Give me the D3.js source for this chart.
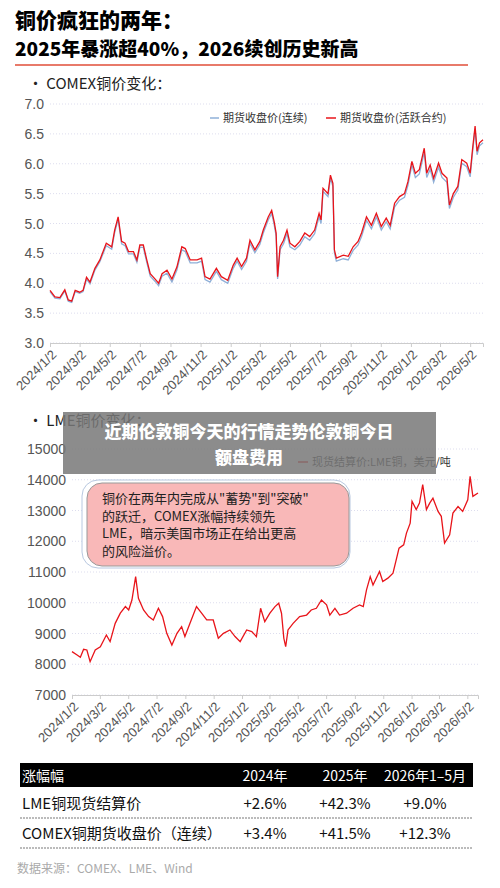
<!DOCTYPE html>
<html>
<head>
<meta charset="utf-8">
<script src="https://cdn.jsdelivr.net/npm/d3@7"></script>
<style>
body { margin: 0; background: #fff; }
svg { font-family: "Noto Sans CJK SC", "Noto Sans", sans-serif; }
</style>
</head>
<body>
<svg id="chart" width="500" height="888"></svg>
<script>
// COMEX data (USD/lb)
var comexDates = ["2024-01-02","2024-01-12","2024-01-22","2024-02-01","2024-02-08","2024-02-15","2024-02-22","2024-03-02","2024-03-09","2024-03-16","2024-03-23","2024-04-02","2024-04-12","2024-04-25","2024-05-06","2024-05-12","2024-05-19","2024-05-26","2024-06-02","2024-06-09","2024-06-19","2024-06-26","2024-07-02","2024-07-09","2024-07-16","2024-07-23","2024-08-02","2024-08-09","2024-08-16","2024-08-26","2024-09-05","2024-09-15","2024-09-25","2024-10-02","2024-10-12","2024-10-26","2024-11-04","2024-11-11","2024-11-21","2024-12-04","2024-12-14","2024-12-27","2025-01-07","2025-01-15","2025-01-24","2025-02-03","2025-02-10","2025-02-20","2025-03-02","2025-03-09","2025-03-19","2025-03-26","2025-03-31","2025-04-04","2025-04-07","2025-04-12","2025-04-19","2025-04-26","2025-05-02","2025-05-12","2025-05-22","2025-06-01","2025-06-11","2025-06-21","2025-06-30","2025-07-04","2025-07-08","2025-07-18","2025-07-23","2025-07-28","2025-07-31","2025-08-04","2025-08-18","2025-08-28","2025-09-07","2025-09-17","2025-09-24","2025-10-04","2025-10-14","2025-10-24","2025-11-03","2025-11-13","2025-11-21","2025-11-30","2025-12-10","2025-12-20","2025-12-27","2026-01-04","2026-01-11","2026-01-19","2026-01-29","2026-02-03","2026-02-10","2026-02-17","2026-02-27","2026-03-06","2026-03-16","2026-03-21","2026-03-29","2026-04-07","2026-04-15","2026-04-25","2026-05-02","2026-05-07","2026-05-12","2026-05-16","2026-05-21","2026-05-28"];
var comexActive = [3.88,3.77,3.76,3.89,3.72,3.70,3.88,3.85,3.88,4.10,4.02,4.25,4.39,4.67,4.61,4.89,5.11,4.70,4.67,4.53,4.53,4.39,4.64,4.64,4.39,4.16,4.07,4.00,4.16,4.22,4.07,4.27,4.61,4.58,4.39,4.39,4.42,4.11,4.07,4.25,4.11,4.05,4.30,4.42,4.28,4.42,4.72,4.56,4.70,4.89,5.11,5.22,5.03,4.84,4.11,4.61,4.72,4.89,4.67,4.61,4.70,4.84,4.78,4.89,5.17,5.06,5.59,5.50,5.81,5.67,4.56,4.42,4.47,4.45,4.61,4.70,4.84,5.11,4.97,5.17,4.95,5.09,4.97,5.34,5.45,5.50,5.70,6.04,5.84,5.90,6.26,5.84,5.98,5.76,6.01,5.84,5.76,5.31,5.50,5.62,6.07,6.01,5.84,6.26,6.63,6.21,6.35,6.40];
var comexCont = [3.86,3.75,3.74,3.87,3.70,3.68,3.86,3.83,3.86,4.07,3.99,4.22,4.36,4.63,4.57,4.85,5.07,4.66,4.63,4.49,4.49,4.35,4.60,4.60,4.35,4.12,4.03,3.96,4.12,4.17,4.02,4.22,4.56,4.53,4.34,4.34,4.37,4.06,4.02,4.20,4.06,4.00,4.25,4.37,4.23,4.37,4.67,4.51,4.65,4.84,5.06,5.17,4.98,4.79,4.07,4.56,4.66,4.83,4.61,4.56,4.64,4.78,4.72,4.83,5.11,5.00,5.54,5.45,5.76,5.62,4.51,4.37,4.41,4.39,4.55,4.64,4.78,5.05,4.91,5.11,4.89,5.03,4.91,5.28,5.39,5.44,5.64,5.98,5.77,5.83,6.19,5.77,5.91,5.69,5.94,5.77,5.69,5.25,5.44,5.56,6.01,5.95,5.78,6.20,6.58,6.15,6.30,6.35];
// LME data (USD/t)
var lmeDates = ["2024-01-02","2024-01-13","2024-01-20","2024-01-27","2024-02-03","2024-02-10","2024-02-21","2024-03-03","2024-03-16","2024-03-24","2024-04-04","2024-04-15","2024-04-26","2024-05-03","2024-05-10","2024-05-18","2024-05-24","2024-06-04","2024-06-15","2024-06-25","2024-07-06","2024-07-15","2024-07-24","2024-08-04","2024-08-15","2024-08-25","2024-09-01","2024-09-12","2024-09-26","2024-10-07","2024-10-18","2024-11-01","2024-11-12","2024-11-23","2024-12-07","2024-12-18","2024-12-29","2025-01-12","2025-01-23","2025-02-02","2025-02-11","2025-02-20","2025-03-03","2025-03-14","2025-03-22","2025-03-28","2025-04-02","2025-04-06","2025-04-11","2025-04-22","2025-05-06","2025-05-21","2025-05-31","2025-06-11","2025-06-22","2025-07-03","2025-07-10","2025-07-21","2025-07-31","2025-08-15","2025-08-29","2025-09-12","2025-09-20","2025-09-27","2025-10-05","2025-10-11","2025-10-25","2025-11-01","2025-11-12","2025-11-23","2025-11-29","2025-12-06","2025-12-16","2025-12-22","2025-12-30","2026-01-03","2026-01-12","2026-01-19","2026-01-26","2026-02-03","2026-02-10","2026-02-17","2026-02-28","2026-03-07","2026-03-14","2026-03-25","2026-04-01","2026-04-12","2026-04-22","2026-05-03","2026-05-08","2026-05-14","2026-05-25"];
var lmeSpot = [8410,8300,8225,8485,8465,8085,8465,8570,8950,8735,9330,9660,9875,9765,10090,10850,10145,9765,9550,9440,9820,9550,9005,8625,9005,9225,8900,9330,9875,9660,9440,9440,8845,9005,9115,8900,8735,9115,9060,8900,9820,9385,9660,9875,9985,9660,8845,8570,9115,9330,9550,9600,9765,9820,10090,9930,9600,9820,9600,9660,9820,9930,9875,10420,10850,10580,11015,10690,10800,10960,11340,11775,11885,12265,12590,13300,13030,13240,13840,13030,13240,13400,12970,12810,11940,12210,12915,13130,12970,13350,14110,13460,13570];
var tickDates = ["2024-01-02","2024-03-02","2024-05-02","2024-07-02","2024-09-02","2024-11-02","2025-01-02","2025-03-02","2025-05-02","2025-07-02","2025-09-02","2025-11-02","2026-01-02","2026-03-02","2026-05-02"];
var tableHead = ["涨幅幅", "2024年", "2025年", "2026年1–5月"];
var tableRows = [["LME铜现货结算价", "+2.6%", "+42.3%", "+9.0%"],
                 ["COMEX铜期货收盘价（连续）", "+3.4%", "+41.5%", "+12.3%"]];

var parse = d3.timeParse("%Y-%m-%d");
var fmt = d3.timeFormat("%Y/%-m/%-d");
var svg = d3.select("#chart");

// titles
svg.append("text").attr("x", 15).attr("y", 28).attr("font-size", 21).attr("font-weight", 900).text("铜价疯狂的两年：");
svg.append("text").attr("x", 15).attr("y", 56).attr("font-size", 19).attr("font-weight", 900).text("2025年暴涨超40%，2026续创历史新高");
svg.append("line").attr("x1", 15).attr("x2", 468).attr("y1", 65).attr("y2", 65).attr("stroke", "#e87a6a").attr("stroke-width", 2);

function drawChart(opt) {
    var g = svg.append("g");
    var x = d3.scaleTime().domain([parse("2024-01-02"), parse(opt.end)]).range([opt.left, opt.right]);
    var y = d3.scaleLinear().domain(opt.domain).range([opt.bottom, opt.top]);
    g.append("text").attr("x", 28).attr("y", opt.titleY).attr("font-size", 15).attr("fill", "#222").text(opt.title);
    g.selectAll(".grid").data(opt.ticks).enter().append("line")
        .attr("x1", opt.left).attr("x2", opt.right)
        .attr("y1", function (d) { return y(d); }).attr("y2", function (d) { return y(d); })
        .attr("stroke", "#dde").attr("stroke-dasharray", "1,2");
    g.selectAll(".yl").data(opt.ticks).enter().append("text")
        .attr("x", opt.left - 6).attr("y", function (d) { return y(d) + 5; })
        .attr("text-anchor", "end").attr("font-size", 14).attr("fill", "#555")
        .attr("font-family", "Liberation Sans, sans-serif")
        .text(opt.tickFmt);
    var xAxis = d3.axisBottom(x).tickValues(tickDates.map(parse)).tickFormat(fmt).tickSize(4);
    var ax = g.append("g").attr("transform", "translate(0," + opt.bottom + ")").call(xAxis);
    ax.select(".domain").attr("stroke", "#ccc");
    ax.selectAll(".tick line").attr("stroke", "#ccc");
    ax.selectAll("text").attr("font-size", 13).attr("fill", "#555")
        .attr("font-family", "Liberation Sans, sans-serif")
        .attr("text-anchor", "end").attr("dx", "-0.3em").attr("dy", "0.5em")
        .attr("transform", "rotate(-45)");
    var line = d3.line().x(function (d) { return x(d[0]); }).y(function (d) { return y(d[1]); });
    opt.series.forEach(function (s) {
        var pts = opt.dates.map(function (d, i) { return [parse(d), s.values[i]]; });
        g.append("path").attr("d", line(pts)).attr("fill", "none")
            .attr("stroke", s.color).attr("stroke-width", 1.3);
    });
    return g;
}

var upper = drawChart({
    title: "· COMEX铜价变化：", titleY: 89,
    left: 50, right: 483, top: 104, bottom: 343, end: "2026-05-28",
    domain: [3, 7], ticks: [3, 3.5, 4, 4.5, 5, 5.5, 6, 6.5, 7], tickFmt: d3.format(".1f"),
    dates: comexDates,
    series: [{ values: comexCont, color: "#8fb0d8" }, { values: comexActive, color: "#e8141a" }]
});
// legend top
upper.append("line").attr("x1", 210).attr("x2", 219).attr("y1", 118).attr("y2", 118).attr("stroke", "#8fb0d8").attr("stroke-width", 1.5);
upper.append("text").attr("x", 223).attr("y", 122).attr("font-size", 11).attr("fill", "#333").text("期货收盘价(连续)");
upper.append("line").attr("x1", 326).attr("x2", 336).attr("y1", 118).attr("y2", 118).attr("stroke", "#e8141a").attr("stroke-width", 1.5);
upper.append("text").attr("x", 340).attr("y", 122).attr("font-size", 11).attr("fill", "#333").text("期货收盘价(活跃合约)");

var lower = drawChart({
    title: "· LME铜价变化：", titleY: 426,
    left: 72, right: 478, top: 449, bottom: 695, end: "2026-05-25",
    domain: [7000, 15000], ticks: d3.range(7000, 15001, 1000), tickFmt: d3.format("d"),
    dates: lmeDates,
    series: [{ values: lmeSpot, color: "#e8141a" }]
});
lower.append("line").attr("x1", 298).attr("x2", 308).attr("y1", 462).attr("y2", 462).attr("stroke", "#e8141a").attr("stroke-width", 1.5);
lower.append("text").attr("x", 312).attr("y", 466).attr("font-size", 11).attr("fill", "#333").text("现货结算价:LME铜，美元/吨");

// annotation box
lower.append("rect").attr("x", 82).attr("y", 480).attr("width", 268).attr("height", 88).attr("rx", 16)
    .attr("fill", "#fff").attr("stroke", "#b8c8e0");
lower.append("rect").attr("x", 87).attr("y", 483).attr("width", 262).attr("height", 83).attr("rx", 15)
    .attr("fill", "#f9b8b8").attr("stroke", "#999");
["铜价在两年内完成从\"蓄势\"到\"突破\"", "的跃迁，COMEX涨幅持续领先", "LME，暗示美国市场正在给出更高", "的风险溢价。"].forEach(function (t, i) {
    lower.append("text").attr("x", 102).attr("y", 503 + i * 17.5).attr("font-size", 13).attr("fill", "#222").text(t);
});

// overlay banner
svg.append("rect").attr("x", 63).attr("y", 412).attr("width", 373).attr("height", 62).attr("fill", "rgba(120,120,120,0.85)");
svg.append("text").attr("x", 249).attr("y", 438).attr("text-anchor", "middle").attr("font-size", 17).attr("font-weight", 900).attr("fill", "#fff").text("近期伦敦铜今天的行情走势伦敦铜今日");
svg.append("text").attr("x", 249).attr("y", 464).attr("text-anchor", "middle").attr("font-size", 17).attr("font-weight", 900).attr("fill", "#fff").text("额盘费用");

// table
var colX = [22, 265, 345, 425];
svg.append("rect").attr("x", 20).attr("y", 763).attr("width", 453).attr("height", 24).attr("fill", "#000");
tableHead.forEach(function (t, i) {
    svg.append("text").attr("x", colX[i]).attr("y", 781).attr("text-anchor", i ? "middle" : "start")
        .attr("font-size", 14).attr("fill", "#fff").text(t);
});
tableRows.forEach(function (r, j) {
    var yy = 809 + j * 30;
    r.forEach(function (t, i) {
        svg.append("text").attr("x", colX[i]).attr("y", yy).attr("text-anchor", i ? "middle" : "start")
            .attr("font-size", 15).attr("fill", "#111").text(t);
    });
    svg.append("line").attr("x1", 20).attr("x2", 473).attr("y1", yy + 9).attr("y2", yy + 9)
        .attr("stroke", "#bbb").attr("stroke-width", 2).attr("stroke-dasharray", "2,1");
});
svg.append("text").attr("x", 17).attr("y", 873).attr("font-size", 12).attr("fill", "#aaa").text("数据来源：COMEX、LME、Wind");
</script>
</body>
</html>
